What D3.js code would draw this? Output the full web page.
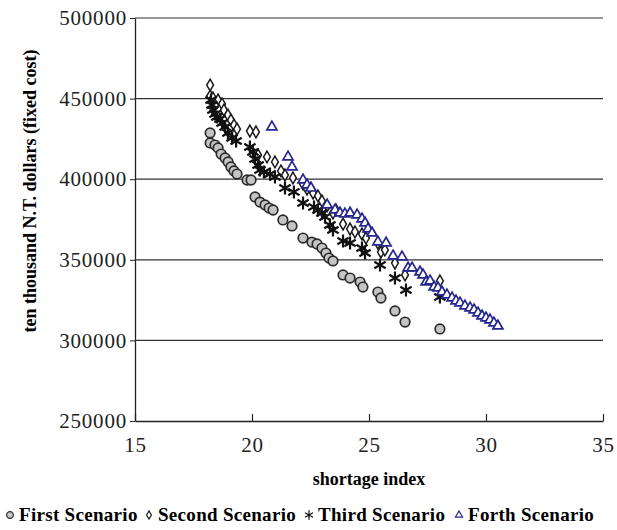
<!DOCTYPE html>
<html>
<head>
<meta charset="utf-8">
<script src="https://cdn.jsdelivr.net/npm/d3@7"></script>
<style>
  body { margin: 0; background: #fff; }
  svg { display: block; }
</style>
</head>
<body>
<div id="chart"></div>
<script>
// [shortage index, cost]
const firstScenario = [
  [18.21, 428700], [18.21, 422500], [18.42, 421200], [18.55, 419400], [18.68, 415600],
  [18.85, 413200], [18.98, 410700], [19.10, 407600], [19.23, 405100], [19.36, 403200],
  [19.79, 399500], [19.96, 399500], [20.13, 389000], [20.34, 385800], [20.56, 384000],
  [20.73, 382100], [20.90, 380900], [21.32, 374700], [21.71, 371000], [22.18, 363500],
  [22.56, 361000], [22.78, 359800], [22.99, 357300], [23.16, 354200], [23.29, 351100],
  [23.46, 349300], [23.89, 340600], [24.19, 338700], [24.62, 336200], [24.74, 333100],
  [25.38, 330000], [25.51, 326300], [26.11, 318300], [26.54, 311400], [28.03, 307100]
];
const secondScenario = [
  [18.21, 458400], [18.21, 451600], [18.33, 450400], [18.55, 449100], [18.42, 446000],
  [18.72, 446700], [18.80, 442900], [18.97, 439800], [19.10, 436700], [19.23, 433600],
  [19.36, 431100], [19.91, 429900], [20.17, 429300], [20.26, 415000], [20.64, 413800],
  [20.98, 410700], [21.24, 405100], [21.41, 402600], [21.75, 400800], [22.18, 397000],
  [22.35, 393900], [22.61, 391400], [22.82, 389600], [22.99, 386500], [23.21, 383400],
  [23.46, 379000], [23.59, 380900], [23.89, 372200], [24.19, 369100], [24.40, 367300],
  [24.70, 366000], [24.87, 363500], [25.38, 360400], [25.51, 354800], [25.68, 356100],
  [26.11, 348000], [26.54, 340600], [28.03, 336900]
];
const thirdScenario = [
  [18.25, 449100], [18.29, 446000], [18.33, 442900], [18.42, 440500], [18.50, 438600],
  [18.63, 437300], [18.72, 434900], [18.85, 432400], [18.97, 428700], [19.15, 425600],
  [19.32, 423700], [19.91, 420000], [20.04, 416900], [20.13, 412500], [20.26, 408800],
  [20.34, 405700], [20.51, 404500], [20.77, 403200], [20.98, 401400], [21.41, 394500],
  [21.79, 392100], [22.18, 385200], [22.65, 382800], [22.82, 380900], [22.99, 379000],
  [23.12, 376600], [23.33, 371600], [23.46, 368500], [23.89, 361700], [24.19, 360400],
  [24.70, 357300], [24.83, 354200], [25.47, 346800], [26.11, 338700], [26.58, 331300],
  [28.03, 326900]
];
const forthScenario = [
  [20.85, 432400], [21.54, 413800], [21.71, 407600], [22.18, 399500], [22.35, 396400],
  [22.52, 394500], [23.21, 384000], [23.55, 380900], [23.76, 379000], [23.97, 378400],
  [24.19, 379000], [24.49, 377800], [24.70, 375300], [24.83, 372800], [24.96, 369100],
  [25.13, 366600], [25.38, 361100], [25.73, 360400], [26.03, 352400], [26.41, 351800],
  [26.67, 344900], [26.84, 344900], [27.18, 342400], [27.31, 340600], [27.44, 336200],
  [27.61, 336900], [27.78, 333100], [27.95, 332500], [28.12, 330000], [28.33, 328200],
  [28.55, 326300], [28.72, 324500], [28.89, 323200], [29.10, 321400], [29.32, 320100],
  [29.49, 318900], [29.66, 317000], [29.83, 315100], [30.00, 313900], [30.17, 312700],
  [30.34, 310800], [30.51, 308900]
];

const xTicks = [15, 20, 25, 30, 35];
const yTicks = [250000, 300000, 350000, 400000, 450000, 500000];
const seriesNames = ["First Scenario", "Second Scenario", "Third Scenario", "Forth Scenario"];

const serif = '"Liberation Serif", "Times New Roman", serif';
const width = 617, height = 530;
const margin = { top: 18, right: 14, bottom: 109, left: 135 };
const innerW = width - margin.left - margin.right;
const innerH = height - margin.top - margin.bottom;

const svg = d3.select("#chart").append("svg")
    .attr("width", width)
    .attr("height", height);

const g = svg.append("g")
    .attr("transform", `translate(${margin.left},${margin.top})`);

const x = d3.scaleLinear().domain([15, 35]).range([0, innerW]);
const y = d3.scaleLinear().domain([250000, 500000]).range([innerH, 0]);

// horizontal gridlines
g.append("g")
    .selectAll("line")
    .data(yTicks.slice(1))
    .join("line")
    .attr("x1", 0)
    .attr("x2", innerW)
    .attr("y1", d => y(d))
    .attr("y2", d => y(d))
    .attr("stroke", "#333")
    .attr("stroke-width", 1.2);

// axes
const yAxis = g.append("g")
    .call(d3.axisLeft(y).tickValues(yTicks).tickFormat(d3.format("d")).tickSize(5).tickSizeOuter(0).tickPadding(3));
yAxis.select(".domain").attr("stroke", "#222").attr("stroke-width", 1.3);
yAxis.selectAll(".tick line").attr("stroke", "#222");

const xAxis = g.append("g")
    .attr("transform", `translate(0,${innerH})`)
    .call(d3.axisBottom(x).tickValues(xTicks).tickSizeInner(-7).tickSizeOuter(0).tickPadding(16));
xAxis.select(".domain").attr("stroke", "#222").attr("stroke-width", 1.6);
xAxis.selectAll(".tick line").attr("stroke", "#222").attr("stroke-width", 1.2);

g.selectAll(".tick text")
    .style("font-family", serif)
    .style("font-size", "21px")
    .style("letter-spacing", "0.8px")
    .attr("fill", "#222");

// axis titles
svg.append("text")
    .attr("x", margin.left + innerW / 2)
    .attr("y", 485)
    .attr("text-anchor", "middle")
    .style("font-family", serif)
    .style("font-weight", "bold")
    .style("font-size", "18px")
    .text("shortage index");

svg.append("text")
    .attr("transform", "translate(36,191) rotate(-90)")
    .attr("text-anchor", "middle")
    .style("font-family", serif)
    .style("font-weight", "bold")
    .style("font-size", "18px")
    .text("ten thousand N.T. dollars (fixed cost)");

// marker styles per series
const styles = [
  { type: d3.symbolCircle, size: 72, fill: "#c4c4c4", stroke: "#2a2a2a", sw: 1.7 },
  { type: d3.symbolDiamond, size: 40, fill: "#fff", stroke: "#1a1a1a", sw: 1.5 },
  { type: d3.symbolAsterisk, size: 120, fill: "none", stroke: "#111", sw: 2.2 },
  { type: d3.symbolTriangle, size: 44, fill: "#fff", stroke: "#26268f", sw: 1.7 }
];
const allSeries = [firstScenario, secondScenario, thirdScenario, forthScenario];

allSeries.forEach((data, i) => {
    const s = styles[i];
    g.append("g")
        .selectAll("path")
        .data(data)
        .join("path")
        .attr("transform", d => `translate(${x(d[0])},${y(d[1])})`)
        .attr("d", d3.symbol().type(s.type).size(s.size))
        .attr("fill", s.fill)
        .attr("stroke", s.stroke)
        .attr("stroke-width", s.sw);
});

// legend
const legendPos = [10, 149, 309, 459];
const legend = svg.append("g").attr("transform", "translate(0,515)");
seriesNames.forEach((name, i) => {
    const s = styles[i];
    const item = legend.append("g").attr("transform", `translate(${legendPos[i]},0)`);
    item.append("path")
        .attr("d", d3.symbol().type(s.type).size(s.size * 0.5))
        .attr("fill", s.fill)
        .attr("stroke", s.stroke)
        .attr("stroke-width", 1.2);
    item.append("text")
        .attr("x", 9)
        .attr("y", 6)
        .style("font-family", serif)
        .style("font-weight", "bold")
        .style("font-size", "19px")
        .style("letter-spacing", "0.3px")
        .text(name);
});
</script>
</body>
</html>
